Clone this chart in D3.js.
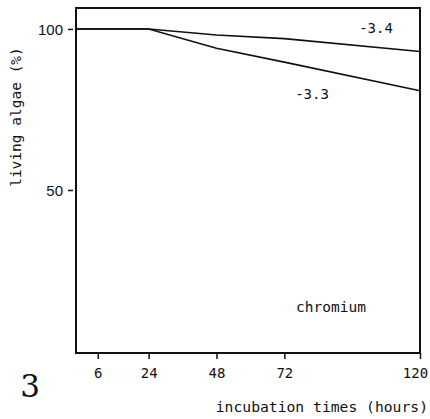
<!DOCTYPE html>
<html>
<head>
<meta charset="utf-8">
<script src="https://cdn.jsdelivr.net/npm/d3@7"></script>
<style>
  body { margin: 0; background: #fff; }
  text { fill: #111; }
</style>
</head>
<body>
<svg id="chart" width="430" height="419"></svg>
<script>
// incubation times (hours) and % living algae for each chromium level
var hours = [0, 24, 48, 72, 120]
var seriesA = [100, 100, 98.1, 97.0, 93.0]   // -3.4
var seriesB = [100, 100, 94.0, 89.7, 80.8]   // -3.3
var seriesNames = ["-3.4", "-3.3"]
var xTicks = [6, 24, 48, 72, 120]
var yTicks = [50, 100]

var mono = "'DejaVu Sans Mono', 'Liberation Mono', monospace"

var svg = d3.select("#chart")

var boxLeft = 76, boxRight = 420, boxTop = 8, boxBottom = 353

var x = d3.scaleLinear()
    .domain([-1.7, 120])
    .range([boxLeft, boxRight])

var y = d3.scaleLinear()
    .domain([-0.6, 106.5])
    .range([boxBottom, boxTop])

// frame
svg.append("rect")
    .attr("x", boxLeft)
    .attr("y", boxTop)
    .attr("width", boxRight - boxLeft)
    .attr("height", boxBottom - boxTop)
    .attr("fill", "none")
    .attr("stroke", "#111")
    .attr("stroke-width", 2)

// x axis
var xAxis = svg.append("g")
    .attr("transform", "translate(0," + boxBottom + ")")
    .call(d3.axisBottom(x).tickValues(xTicks).tickSize(6).tickSizeOuter(0))
xAxis.select(".domain").remove()
xAxis.selectAll(".tick line").attr("stroke", "#111").attr("stroke-width", 1.5)
xAxis.selectAll(".tick text")
    .attr("y", 15)
    .attr("x", function(d) { return d === 120 ? -5 : 0 })
    .attr("font-family", mono)
    .attr("font-size", 14)
    .attr("fill", "#111")

// y axis
var yAxis = svg.append("g")
    .attr("transform", "translate(" + boxLeft + ",0)")
    .call(d3.axisLeft(y).tickValues(yTicks).tickSize(0).tickSizeOuter(0))
yAxis.select(".domain").remove()
yAxis.selectAll(".tick").append("line")
    .attr("x1", -8).attr("x2", -3)
    .attr("stroke", "#111").attr("stroke-width", 1.5)
yAxis.selectAll(".tick text")
    .attr("x", -13)
    .attr("dy", "0.36em")
    .attr("font-family", "'Liberation Sans', Arial, sans-serif")
    .attr("font-size", 15)
    .attr("fill", "#111")

// lines
var line = d3.line()
    .x(function(d) { return x(d[0]) })
    .y(function(d) { return y(d[1]) })

;[seriesA, seriesB].forEach(function(vals) {
    var pts = hours.map(function(h, i) { return [h, vals[i]] })
    pts.unshift([x.domain()[0], vals[0]])
    svg.append("path")
        .datum(pts)
        .attr("d", line)
        .attr("fill", "none")
        .attr("stroke", "#111")
        .attr("stroke-width", 1.6)
})

// series labels
svg.append("text")
    .attr("x", 376).attr("y", 33)
    .attr("text-anchor", "middle")
    .attr("font-family", mono).attr("font-size", 14)
    .text(seriesNames[0])
svg.append("text")
    .attr("x", 312).attr("y", 99)
    .attr("text-anchor", "middle")
    .attr("font-family", mono).attr("font-size", 14)
    .text(seriesNames[1])

svg.append("text")
    .attr("x", 331).attr("y", 312)
    .attr("text-anchor", "middle")
    .attr("font-family", mono).attr("font-size", 14.5)
    .text("chromium")

// axis titles
svg.append("text")
    .attr("transform", "translate(21,117) rotate(-90)")
    .attr("text-anchor", "middle")
    .attr("font-family", mono).attr("font-size", 14.5)
    .text("living algae (%)")

svg.append("text")
    .attr("x", 428).attr("y", 412)
    .attr("text-anchor", "end")
    .attr("font-family", mono).attr("font-size", 14.7)
    .text("incubation times (hours)")

// panel number
svg.append("text")
    .attr("x", 30).attr("y", 397)
    .attr("text-anchor", "middle")
    .attr("font-family", "'DejaVu Serif', 'Liberation Serif', serif")
    .attr("font-size", 31)
    .text("3")
</script>
</body>
</html>
